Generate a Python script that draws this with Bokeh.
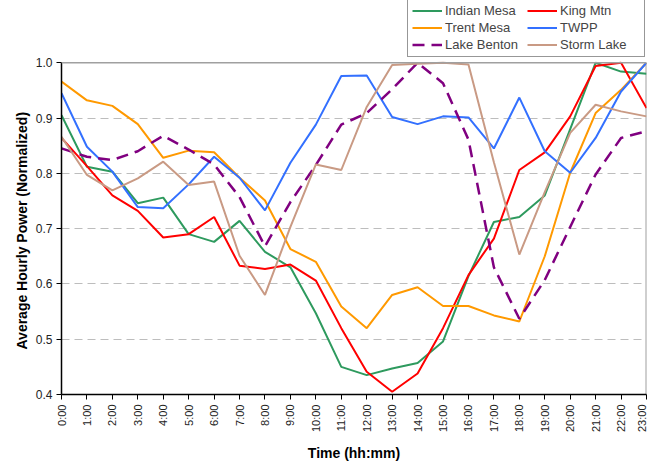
import numpy as np
from bokeh.plotting import figure
from bokeh.models import Legend, LegendItem, FixedTicker, Range1d, Span, Title
from bokeh.embed import file_html
from bokeh.resources import INLINE

hours = list(range(24))
hour_labels = [f"{h}:00" for h in hours]
y_ticks = [0.4, 0.5, 0.6, 0.7, 0.8, 0.9, 1.0]
y_tick_labels = ["0.4", "0.5", "0.6", "0.7", "0.8", "0.9", "1.0"]

indian_mesa = [0.905, 0.812, 0.803, 0.746, 0.756, 0.690, 0.676, 0.714, 0.658, 0.630,
               0.547, 0.450, 0.435, 0.447, 0.457, 0.496, 0.614, 0.712, 0.721, 0.760,
               0.880, 1.000, 0.984, 0.980]
king_mtn = [0.864, 0.813, 0.760, 0.732, 0.684, 0.690, 0.721, 0.633, 0.627, 0.635,
            0.606, 0.520, 0.441, 0.405, 0.438, 0.520, 0.616, 0.682, 0.806, 0.838,
            0.903, 0.994, 1.000, 0.918]
trent_mesa = [0.966, 0.932, 0.922, 0.889, 0.828, 0.841, 0.838, 0.792, 0.751, 0.663,
              0.640, 0.559, 0.520, 0.580, 0.594, 0.560, 0.560, 0.543, 0.532, 0.650,
              0.801, 0.909, 0.951, 1.000]
twpp = [0.945, 0.848, 0.803, 0.739, 0.737, 0.780, 0.830, 0.792, 0.733, 0.819,
        0.888, 0.976, 0.977, 0.902, 0.889, 0.903, 0.901, 0.845, 0.937, 0.840,
        0.801, 0.864, 0.948, 1.000]
lake_benton = [0.845, 0.830, 0.824, 0.840, 0.868, 0.843, 0.816, 0.757, 0.668, 0.748,
               0.815, 0.888, 0.909, 0.952, 1.000, 0.963, 0.861, 0.630, 0.537, 0.607,
               0.703, 0.798, 0.864, 0.876]
storm_lake = [0.866, 0.797, 0.769, 0.791, 0.821, 0.779, 0.785, 0.651, 0.580, 0.703,
              0.816, 0.806, 0.920, 0.996, 0.998, 1.000, 0.997, 0.820, 0.653, 0.766,
              0.873, 0.924, 0.912, 0.903]

series = [
    ("Indian Mesa", indian_mesa, "#2e9a5e", None),
    ("King Mtn", king_mtn, "#ff0000", None),
    ("Trent Mesa", trent_mesa, "#ff9900", None),
    ("TWPP", twpp, "#3370ff", None),
    ("Lake Benton", lake_benton, "#800080", "12 7"),
    ("Storm Lake", storm_lake, "#c99a84", None),
]

Y_MIN, Y_MAX = 0.4, 1.0
# frame extends above 1.0 to hold the legend (frame: y 0..397 px, 0.6 units = 334.3 px)
Y_TOP = Y_MIN + 397 * (Y_MAX - Y_MIN) / 334.3

p = figure(width=647, height=464, output_backend="svg", toolbar_location=None,
           x_range=Range1d(0, 23), y_range=Range1d(Y_MIN, Y_TOP),
           min_border_left=61, min_border_right=1, min_border_top=0,
           min_border_bottom=67)

FONT = "Liberation Sans"

# plot-area top edge (at 1.0) and right edge
p.add_layout(Span(location=Y_MAX, dimension="width", line_color="#a0a0a0", line_width=1.5))
p.segment(x0=[23], y0=[Y_MIN], x1=[23], y1=[Y_MAX], line_color="#a0a0a0", line_width=2)

items = {}
for name, vals, color, dash in series:
    if dash:
        r = p.line(hours, vals, line_color=color, line_width=2.5, line_dash=dash)
    else:
        r = p.line(hours, vals, line_color=color, line_width=2)
    items[name] = r

order = ["Indian Mesa", "King Mtn", "Trent Mesa", "TWPP", "Lake Benton", "Storm Lake"]
legend = Legend(items=[LegendItem(label=n, renderers=[items[n]]) for n in order],
                orientation="horizontal", ncols=2, location=(346, 337),
                label_text_font=FONT, label_text_font_size="13px",
                glyph_width=30, glyph_height=13, label_height=13,
                label_standoff=3, spacing=2, padding=4, margin=0,
                label_width=80,
                border_line_color="#303030", border_line_width=1.5,
                background_fill_color="white")
p.add_layout(legend, "center")

# axes
p.xaxis.ticker = FixedTicker(ticks=hours)
p.xaxis.major_label_overrides = {h: lab for h, lab in zip(hours, hour_labels)}
p.xaxis.major_label_orientation = np.pi / 2
p.xaxis.axis_label = "Time (hh:mm)"
p.yaxis.ticker = FixedTicker(ticks=y_ticks)
p.yaxis.major_label_overrides = {t: lab for t, lab in zip(y_ticks, y_tick_labels)}
p.yaxis.bounds = (Y_MIN, Y_MAX)

# y-axis title centred on the 0.4..1.0 part of the frame
ytitle = Title(text="Average Hourly Power (Normalized)", align="left", offset=45,
               text_font=FONT, text_font_style="bold", text_font_size="14px",
               text_color="black", standoff=6)
p.add_layout(ytitle, "left")

for ax in (p.xaxis[0], p.yaxis[0]):
    ax.axis_line_color = "black"
    ax.axis_line_width = 1.5
    ax.major_tick_line_color = "black"
    ax.major_tick_out = 5
    ax.major_tick_in = 0
    ax.minor_tick_line_color = None
    ax.major_label_text_font = FONT
    ax.major_label_text_color = "#222222"
    ax.axis_label_text_font = FONT
    ax.axis_label_text_font_style = "bold"
    ax.axis_label_text_font_size = "14px"
    ax.axis_label_text_color = "black"

p.xaxis.major_label_text_font_size = "11px"
p.yaxis.major_label_text_font_size = "12px"
p.xaxis.major_label_standoff = 5
p.yaxis.major_label_standoff = 4
p.xaxis.axis_label_standoff = 10

p.xgrid.grid_line_color = None
p.ygrid.grid_line_color = "#bdbdbd"
p.ygrid.grid_line_dash = "8 5"
p.ygrid.grid_line_width = 1

p.outline_line_color = None
p.background_fill_color = "white"
p.border_fill_color = "white"

open("out.html", "w").write(file_html(p, INLINE))
